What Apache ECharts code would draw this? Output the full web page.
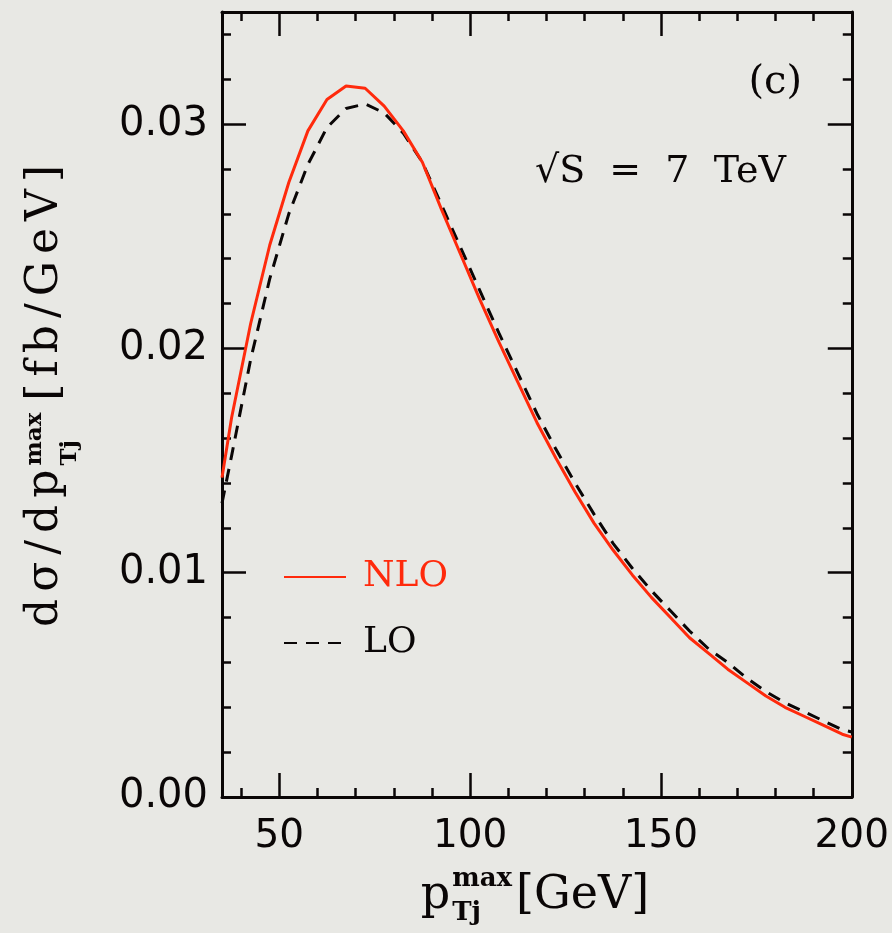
<!DOCTYPE html>
<html>
<head>
<meta charset="utf-8">
<script src="https://cdn.jsdelivr.net/npm/echarts@6/dist/echarts.min.js"></script>
<style>
  html, body { margin: 0; padding: 0; background: #e8e8e4; }
  #chart { width: 892px; height: 933px; }
</style>
</head>
<body>
<div id="chart"></div>
<script>
// p_Tj^max values (GeV) where the distributions are sampled
const pT = [35, 37.5, 42.5, 47.5, 52.5, 57.5, 62.5, 67.5, 72.5, 77.5, 82.5, 87.5,
  92.5, 97.5, 102.5, 107.5, 112.5, 117.5, 122.5, 127.5, 132.5, 137.5, 142.5, 147.5,
  152.5, 157.5, 162.5, 167.5, 172.5, 177.5, 182.5, 187.5, 192.5, 197.5, 200];

// dσ/dp_Tj^max [fb/GeV], next-to-leading order
const nlo = [0.01424, 0.0169, 0.0211, 0.0246, 0.0274, 0.0297, 0.0311, 0.0317, 0.0316, 0.0308, 0.0297, 0.0283,
  0.0262, 0.0242, 0.0222, 0.0203, 0.0185, 0.0167, 0.0151, 0.0136, 0.0122, 0.0110, 0.0099, 0.0089,
  0.0080, 0.0071, 0.0064, 0.0057, 0.0051, 0.0045, 0.0040, 0.0036, 0.0032, 0.0028, 0.00267];

// dσ/dp_Tj^max [fb/GeV], leading order
const lo = [0.0131, 0.0152, 0.0195, 0.0231, 0.0260, 0.0282, 0.02985, 0.0307, 0.0309, 0.0305, 0.0296, 0.0283,
  0.0264, 0.0245, 0.0226, 0.0207, 0.0189, 0.0171, 0.0155, 0.0140, 0.0126, 0.0113, 0.0102, 0.0092,
  0.0083, 0.0074, 0.0066, 0.0060, 0.0053, 0.0047, 0.0042, 0.0038, 0.0034, 0.0030, 0.0029];

// axis ticks
const xLabels = [50, 100, 150, 200];
const xMajor = [50, 100, 150];
const xMinor = [40, 60, 70, 80, 90, 110, 120, 130, 140, 160, 170, 180, 190];
const yLabels = [0, 0.01, 0.02, 0.03];
const yMajor = [0.01, 0.02, 0.03];
const yMinor = [0.002, 0.004, 0.006, 0.008, 0.012, 0.014, 0.016, 0.018,
  0.022, 0.024, 0.026, 0.028, 0.032, 0.034];

const RED = '#ff2a0c';
const INK = '#0a0606';
const SERIF = '"DejaVu Serif", "Liberation Serif", serif';
const SANS = '"DejaVu Sans", sans-serif';

const measure = document.createElement('canvas').getContext('2d');
function tw(str, font) { measure.font = font; return measure.measureText(str).width; }

function xAxisDef(pos, ticks, len, labels, line) {
  return {
    type: 'value', position: pos, min: 35, max: 200,
    axisLine: { show: line, onZero: false, lineStyle: { color: INK, width: 3 } },
    axisTick: { show: true, inside: true, length: len, customValues: ticks,
      lineStyle: { color: INK, width: 2.5 } },
    axisLabel: labels ? { show: true, customValues: xLabels, margin: 20,
      fontFamily: SANS, fontSize: 39, color: INK } : { show: false },
    splitLine: { show: false }
  };
}
function yAxisDef(pos, ticks, len, labels, line) {
  return {
    type: 'value', position: pos, min: 0, max: 0.035,
    axisLine: { show: line, onZero: false, lineStyle: { color: INK, width: 3 } },
    axisTick: { show: true, inside: true, length: len, customValues: ticks,
      lineStyle: { color: INK, width: 2.5 } },
    axisLabel: labels ? { show: true, customValues: yLabels, margin: 14,
      fontFamily: SANS, fontSize: 40, color: INK,
      formatter: v => v.toFixed(2) } : { show: false },
    splitLine: { show: false }
  };
}

function txt(x, y, text, font, align) {
  return { type: 'text', x: x, y: y,
    style: { text: text, font: font, fill: INK, align: align || 'left', verticalAlign: 'middle' } };
}
// a run of glyphs with extra letter spacing; returns elements and advance
function tracked(str, font, track, x, y) {
  const els = [];
  let cx = x;
  for (const ch of str) {
    els.push(txt(cx, y, ch, font));
    cx += tw(ch, font) + track;
  }
  return { els: els, width: cx - x - track };
}

// y-axis title: dσ/dp_Tj^max [fb/GeV], written bottom-to-top
const S1 = 44, S2 = 23;
const F1 = S1 + 'px ' + SERIF;
const F2 = 'bold ' + S2 + 'px ' + SERIF;
const yBase = 57;                       // baseline, page x
const mid1 = yBase - 0.27 * S1;
const partA = tracked('dσ/dp', F1, 7, 0, mid1);
const xSup = partA.width + 4;
const wSup = Math.max(tw('max', F2), tw('Tj', F2));
const xB = xSup + wSup + 12;
const partB = tracked('[fb/GeV]', F1, 7, xB, mid1);
const yTotal = xB + partB.width;
const yTitle = {
  type: 'group', x: 0, y: 396 + yTotal / 2, rotation: Math.PI / 2,
  children: partA.els.concat([
    txt(xSup, 41 - 0.27 * S2, 'max', F2),
    txt(xSup, 76 - 0.27 * S2, 'Tj', F2)
  ], partB.els)
};

// x-axis title: p_Tj^max [GeV]
const T1 = 46, T2 = 26;
const G1 = T1 + 'px ' + SERIF;
const G2 = 'bold ' + T2 + 'px ' + SERIF;
const xBase = 908;
const wp = tw('p', G1);
const wsx = Math.max(tw('max', G2), tw('Tj', G2));
const xGeV = wp + 2 + wsx + 4;
const xTitleW = xGeV + tw('[GeV]', G1);
const xTitle = {
  type: 'group', x: 535 - xTitleW / 2, y: 0,
  children: [
    txt(0, xBase - 0.27 * T1, 'p', G1),
    txt(wp + 2, xBase - 22 - 0.27 * T2, 'max', G2),
    txt(wp + 2, xBase + 12 - 0.27 * T2, 'Tj', G2),
    txt(xGeV, xBase - 0.27 * T1, '[GeV]', G1)
  ]
};

const chart = echarts.init(document.getElementById('chart'));
chart.setOption({
  backgroundColor: '#e8e8e4',
  animation: false,
  grid: { left: 222, right: 40, top: 12, bottom: 136 },
  xAxis: [
    xAxisDef('bottom', xMajor, 24, true, true),
    xAxisDef('bottom', xMinor, 9, false, false),
    xAxisDef('top', xMajor, 24, false, true),
    xAxisDef('top', xMinor, 9, false, false)
  ],
  yAxis: [
    yAxisDef('left', yMajor, 24, true, true),
    yAxisDef('left', yMinor, 9, false, false),
    yAxisDef('right', yMajor, 24, false, true),
    yAxisDef('right', yMinor, 9, false, false)
  ],
  legend: {
    orient: 'vertical', left: 278, top: 552,
    itemWidth: 62, itemHeight: 14, itemGap: 26,
    itemStyle: { opacity: 0 },
    textStyle: { fontFamily: SERIF, fontSize: 36, lineHeight: 40, padding: [0, 0, 0, 12] },
    data: [
      { name: 'NLO', textStyle: { color: RED } },
      { name: 'LO', textStyle: { color: INK } }
    ]
  },
  graphic: [
    { type: 'text', x: 802, y: 83,
      style: { text: '(c)', font: '40px ' + SERIF, fill: INK, align: 'right', verticalAlign: 'middle' } },
    { type: 'text', x: 786, y: 172,
      style: { text: '√S  =  7  TeV', font: '38px ' + SERIF, fill: INK, align: 'right', verticalAlign: 'middle' } },
    yTitle,
    xTitle
  ],
  series: [
    {
      name: 'LO', type: 'line', xAxisIndex: 0, yAxisIndex: 0,
      data: pT.map((x, i) => [x, lo[i]]),
      symbol: 'none', smooth: false, z: 3,
      lineStyle: { color: INK, width: 3, type: [13, 9] },
      itemStyle: { color: INK }
    },
    {
      name: 'NLO', type: 'line', xAxisIndex: 0, yAxisIndex: 0,
      data: pT.map((x, i) => [x, nlo[i]]),
      symbol: 'none', smooth: false, z: 4,
      lineStyle: { color: RED, width: 3 },
      itemStyle: { color: RED }
    }
  ]
});
</script>
</body>
</html>
